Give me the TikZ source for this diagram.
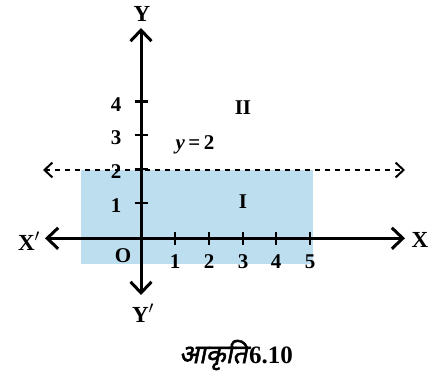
\documentclass[tikz,border=0pt]{standalone}
\usepackage{fontspec}
\setmainfont{Liberation Serif}
\newfontfamily\hindifont[Script=Devanagari,FakeSlant=0.2,FakeBold=2]{Noto Sans}
\usetikzlibrary{arrows.meta}
\definecolor{regionblue}{RGB}{189,222,239}
\begin{document}
\begin{tikzpicture}[x=1pt,y=-1pt,
  axis/.style={line width=3pt,{Straight Barb[length=11pt,width=21pt,line width=3pt]}-{Straight Barb[length=11pt,width=21pt,line width=3pt]}},
  dashline/.style={line width=2pt,dash pattern=on 5pt off 5pt,
    {Straight Barb[length=8pt,width=15pt,line width=2pt]}-{Straight Barb[length=8pt,width=15pt,line width=2pt]}},
  tickmark/.style={line width=2.5pt},
  lbl/.style={font=\fontsize{21}{21}\selectfont\bfseries,inner sep=0pt},
  axlbl/.style={font=\fontsize{23}{23}\selectfont\bfseries,inner sep=0pt}]
\useasboundingbox (0,0) rectangle (429,377);
% shaded region
\fill[regionblue] (81,170) rectangle (313,264);
% axis ends
\coordinate (xl) at (45,238.3);
\coordinate (xr) at (405,238.3);
\coordinate (yt) at (141,28);
\coordinate (yb) at (141,295);
\coordinate (dl) at (43,170);
\coordinate (dr) at (405,170);
\draw[dashline] (dl) -- (dr);
\draw[axis] (xl) -- (xr);
\draw[axis] (yb) -- (yt);
% ticks
\foreach \i/\x in {1/175,2/209,3/243,4/276,5/310}{
  \draw[tickmark] (\x,232) -- (\x,244.6);
  \node[lbl] (xt\i) at (\x,262) {\i};
}
\foreach \i/\y in {1/203,2/169,3/135,4/101.5}{
  \draw[tickmark] (134.5,\y) -- (147.5,\y);
  \node[lbl] (yt\i) at (116,\y+3) {\i};
}
\node[axlbl] (X) at (420,240) {X};
\node[axlbl] (Xp) at (29,241) {X$'$};
\node[axlbl] (Y) at (142,14) {Y};
\node[axlbl] (Yp) at (143,313) {Y$'$};
\node[lbl] (O) at (123,256) {O};
\node[lbl] (eq) at (195,145) {\textit{y}\,=\,2};
\node[lbl] (II) at (243,108) {II};
\node[lbl] (I) at (243,202) {I};
\node[inner sep=0pt] (cap) at (236,355) {{\hindifont\fontsize{26}{26}\selectfont आकृति}\,{\fontsize{25}{25}\selectfont\bfseries 6.10}};
\end{tikzpicture}
\end{document}
